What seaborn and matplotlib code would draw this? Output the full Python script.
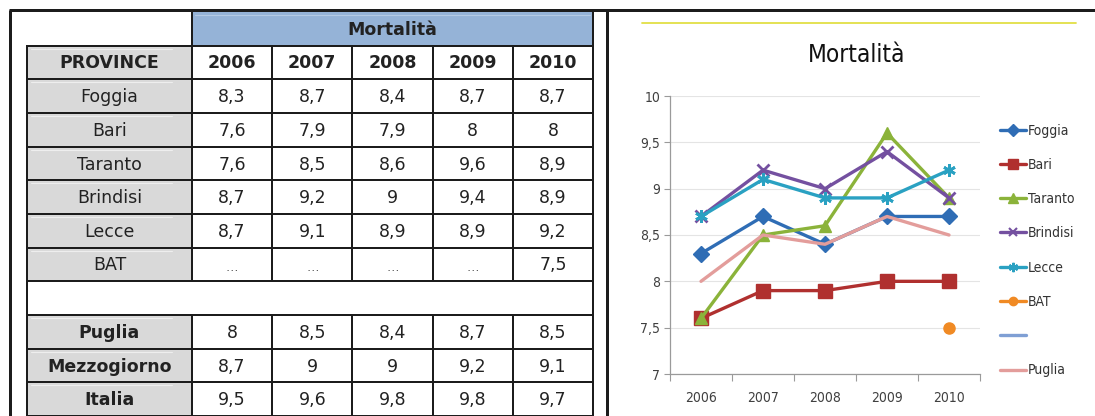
import numpy as np
import pandas as pd
import matplotlib
matplotlib.use("Agg")
import matplotlib.pyplot as plt
import seaborn as sns
from matplotlib.patches import Rectangle
from matplotlib.lines import Line2D

# ---- data -------------------------------------------------------------
years = ["2006", "2007", "2008", "2009", "2010"]
foggia = [8.3, 8.7, 8.4, 8.7, 8.7]
bari = [7.6, 7.9, 7.9, 8.0, 8.0]
taranto = [7.6, 8.5, 8.6, 9.6, 8.9]
brindisi = [8.7, 9.2, 9.0, 9.4, 8.9]
lecce = [8.7, 9.1, 8.9, 8.9, 9.2]
bat = [None, None, None, None, 7.5]
puglia = [8.0, 8.5, 8.4, 8.7, 8.5]
mezzogiorno = [8.7, 9.0, 9.0, 9.2, 9.1]
italia = [9.5, 9.6, 9.8, 9.8, 9.7]
y_ticks = [7, 7.5, 8, 8.5, 9, 9.5, 10]
title = "Mortalità"

sns.set_style("white")
TABLE_FONT = ["DejaVu Sans"]
CHART_FONT = ["Liberation Sans Narrow", "DejaVu Sans"]
plt.rcParams["font.family"] = TABLE_FONT

W, H = 1095, 416
fig = plt.figure(figsize=(W / 100, H / 100), dpi=100)
fig.patch.set_facecolor("white")


def fmt(v):
    if v is None:
        return "…"
    return f"{v:g}".replace(".", ",")


# ---- table ------------------------------------------------------------
tab = fig.add_axes([0, 0, 1, 1])
tab.set_xlim(0, W)
tab.set_ylim(H, 0)
tab.axis("off")

line_c = "#1c1c1c"
px = 0.72  # points per pixel at 100 dpi

# outer frame
tab.plot([9, W], [10, 10], color=line_c, lw=3 * px, solid_capstyle="butt")
tab.plot([9.5, 9.5], [10, H], color=line_c, lw=3 * px, solid_capstyle="butt")
tab.plot([607, 607], [10, H], color=line_c, lw=3 * px, solid_capstyle="butt")

x_lab0, x_lab1 = 27, 192
x_end = 593
col_w = (x_end - x_lab1) / len(years)
col_edges = [x_lab1 + i * col_w for i in range(len(years) + 1)]
top = 12
row_h = (H - top) / 12
row_edges = [top + i * row_h for i in range(13)]

rows = [
    ("PROVINCE", years, True),
    ("Foggia", foggia, False),
    ("Bari", bari, False),
    ("Taranto", taranto, False),
    ("Brindisi", brindisi, False),
    ("Lecce", lecce, False),
    ("BAT", bat, False),
    None,
    ("Puglia", puglia, True),
    ("Mezzogiorno", mezzogiorno, True),
    ("Italia", italia, True),
]

# header spanning the year columns
tab.add_patch(Rectangle((x_lab1, row_edges[0]), x_end - x_lab1, row_h,
                        facecolor="#95b3d7", edgecolor="none"))
tab.plot([x_lab1 + 3, x_end - 3], [row_edges[0] + 3] * 2, color="#b4cae4", lw=0.8)
tab.text((x_lab1 + x_end) / 2, row_edges[0] + row_h / 2 + 1, title,
         ha="center", va="center", fontsize=12.5, fontweight="bold", color="#222222")

for i, row in enumerate(rows):
    y0 = row_edges[i + 1]
    y1 = row_edges[i + 2]
    yc = (y0 + y1) / 2 + 1
    if row is None:
        continue
    label, vals, bold = row
    tab.add_patch(Rectangle((x_lab0, y0), x_lab1 - x_lab0, row_h,
                            facecolor="#d9d9d9", edgecolor="none"))
    tab.plot([x_lab0 + 4, x_lab1 - 20], [y0 + 3] * 2, color="#eeeeee", lw=0.8)
    tab.text((x_lab0 + x_lab1) / 2, yc, label, ha="center", va="center",
             fontsize=12.5, fontweight="bold" if bold else "normal", color="#222222")
    for j, v in enumerate(vals):
        xc = (col_edges[j] + col_edges[j + 1]) / 2
        if isinstance(v, str):
            tab.text(xc, yc, v, ha="center", va="center", fontsize=12.5,
                     fontweight="bold", color="#222222")
        elif v is None:
            tab.text(xc, yc + 2, fmt(v), ha="center", va="center", fontsize=9,
                     color="#555555")
        else:
            tab.text(xc, yc, fmt(v), ha="center", va="center", fontsize=12.5,
                     color="#222222")

# grid lines of the table
lw_t = 2 * px
for k in range(1, 13):
    tab.plot([x_lab0, x_end], [row_edges[k]] * 2, color=line_c, lw=lw_t,
             solid_capstyle="projecting")
tab.plot([x_lab0, x_lab0], [row_edges[1], H], color=line_c, lw=lw_t)
tab.plot([x_end, x_end], [row_edges[0], H], color=line_c, lw=lw_t)
empty_idx = rows.index(None) + 1
for xe in col_edges[:-1]:
    y_start = row_edges[0] if xe == x_lab1 else row_edges[1]
    tab.plot([xe, xe], [y_start, row_edges[empty_idx]], color=line_c, lw=lw_t)
    tab.plot([xe, xe], [row_edges[empty_idx + 1], H], color=line_c, lw=lw_t)

# ---- chart ------------------------------------------------------------
fig.add_artist(Line2D([642 / W, 1076 / W], [1 - 23 / H] * 2, color="#e2df45", lw=1.3))
fig.text(857 / W, 1 - 55 / H, title, ha="center", va="center", fontsize=17.5,
         family=CHART_FONT, fontstretch="condensed", color="#111111")

ax = fig.add_axes([670 / W, 1 - 374 / H, 310 / W, 278 / H])
xs = np.arange(len(years))

series = [
    ("Foggia", foggia, "#2f6db5", "D", 8),
    ("Bari", bari, "#b0302f", "s", 9.5),
    ("Taranto", taranto, "#8bb33a", "^", 9),
    ("Brindisi", brindisi, "#7450a0", "x", 8),
    ("Lecce", lecce, "#2aa1c2", (6, 2, 0), 9),
    ("BAT", bat, "#f08a24", "o", 8),
    ("", [None] * 5, "#7f9fd4", None, 0),
    ("Puglia", puglia, "#e39d9b", None, 0),
]

handles, labels = [], []
for name, vals, color, marker, ms in series:
    df = pd.DataFrame({"x": xs, "y": pd.array(vals, dtype="Float64")}).dropna()
    df["y"] = df["y"].astype(float)
    thin = marker in ("x", (6, 2, 0))
    if len(df):
        sns.lineplot(data=df, x="x", y="y", ax=ax, color=color, marker=marker,
                     markersize=ms, markeredgecolor=color,
                     markeredgewidth=2 if thin else 1,
                     linewidth=2.4, legend=False)
    handles.append(Line2D([], [], color=color, lw=2.4, marker=marker,
                          markersize=ms * 0.75 if ms else 0, markeredgecolor=color,
                          markeredgewidth=1.5 if thin else 1))
    labels.append(name)

tick_font = dict(family=CHART_FONT, fontstretch="condensed", fontsize=10, color="#404040")
ax.set_xlim(-0.5, len(years) - 0.5)
ax.set_ylim(y_ticks[0], y_ticks[-1])
ax.set_yticks(y_ticks)
ax.set_yticklabels([fmt(v) for v in y_ticks], **tick_font)
ax.set_xticks(xs)
ax.set_xticklabels(years, **tick_font)
ax.set_xticks(np.arange(-0.5, len(years)), minor=True)
ax.tick_params(axis="x", which="major", length=0, pad=12)
ax.tick_params(axis="x", which="minor", length=5, width=0.8, color="#9a9a9a", direction="out", bottom=True)
ax.tick_params(axis="y", length=4, width=0.8, color="#9a9a9a", direction="out", left=True, pad=3)
ax.set_xlabel("")
ax.set_ylabel("")
ax.grid(axis="y", color="#e4e4e4", lw=0.8)
ax.grid(axis="x", visible=False)
for s in ("top", "right"):
    ax.spines[s].set_visible(False)
for s in ("left", "bottom"):
    ax.spines[s].set_color("#9a9a9a")
    ax.spines[s].set_linewidth(0.9)

fig.legend(handles, labels, loc="upper left", bbox_to_anchor=(987 / W, 1 - 111 / H),
           frameon=False, handlelength=1.9, handletextpad=0.15, labelspacing=1.46,
           prop={"family": CHART_FONT, "stretch": "condensed", "size": 10},
           labelcolor="#333333")

fig.savefig("out.png", dpi=100, facecolor="white")
